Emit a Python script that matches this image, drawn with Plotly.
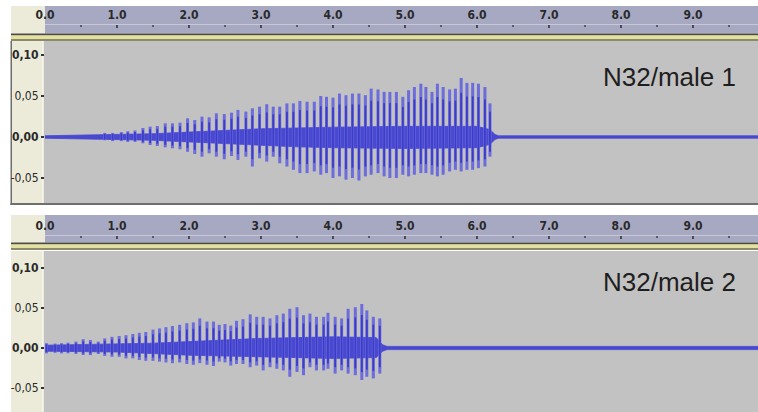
import plotly.graph_objects as go

W, H = 758, 412

# ---------------- tick labels ----------------
RULER_TICKS = [0, 1, 2, 3, 4, 5, 6, 7, 8, 9]
RULER_LABELS = ["0.0", "1.0", "2.0", "3.0", "4.0", "5.0", "6.0", "7.0", "8.0", "9.0"]
AMP_TICKS = [0.10, 0.05, 0.00, -0.05]
AMP_LABELS = ["0,10", "0,05", "0,00", "-0,05"]
PANEL_NAMES = ["N32/male 1", "N32/male 2"]

# ---------------- male 1 : pulses (time s, max, min) ----------------
M1_PULSE_T = [0.83, 0.94, 1.06, 1.15, 1.25, 1.36, 1.46, 1.56, 1.67, 1.77, 1.875, 1.98,
              2.08, 2.18, 2.28, 2.38, 2.49, 2.59, 2.68, 2.79, 2.88, 2.98, 3.08, 3.17,
              3.26, 3.36, 3.45, 3.54, 3.64, 3.74, 3.83, 3.91, 4.00, 4.09, 4.18, 4.27,
              4.36, 4.45, 4.53, 4.625, 4.71, 4.79, 4.88, 4.97, 5.05, 5.13, 5.22, 5.29,
              5.375, 5.45, 5.53, 5.62, 5.70, 5.78, 5.86, 5.94, 6.02, 6.11, 6.18]
M1_PULSE_HI = [0.005, 0.005, 0.006, 0.007, 0.008, 0.011, 0.0126, 0.0134, 0.0167, 0.0167, 0.0175, 0.0228,
               0.0207, 0.0248, 0.024, 0.0289, 0.028, 0.0297, 0.033, 0.031, 0.035, 0.037, 0.040, 0.037,
               0.037, 0.041, 0.041, 0.044, 0.043, 0.043, 0.050, 0.049, 0.048, 0.053, 0.051, 0.053,
               0.053, 0.051, 0.059, 0.058, 0.055, 0.055, 0.055, 0.049, 0.057, 0.061, 0.065, 0.061,
               0.055, 0.065, 0.061, 0.058, 0.059, 0.072, 0.066, 0.066, 0.065, 0.061, 0.041]
M1_PULSE_LO = [-0.004, -0.005, -0.005, -0.006, -0.006, -0.0077, -0.0098, -0.011, -0.0126, -0.0138, -0.015, -0.018,
               -0.0207, -0.024, -0.0199, -0.024, -0.0272, -0.0232, -0.028, -0.024, -0.036, -0.026, -0.030, -0.024,
               -0.032, -0.036, -0.040, -0.044, -0.044, -0.042, -0.046, -0.044, -0.050, -0.048, -0.052, -0.050,
               -0.053, -0.048, -0.046, -0.044, -0.048, -0.050, -0.050, -0.046, -0.048, -0.046, -0.044, -0.044,
               -0.046, -0.048, -0.046, -0.042, -0.040, -0.042, -0.040, -0.040, -0.038, -0.036, -0.024]
# dense central body of the waveform (time s, max, min)
M1_BODY_T = [0.0, 0.8, 1.5, 2.0, 2.5, 3.0, 3.5, 4.0, 5.0, 6.0, 6.18, 6.25, 6.3, 9.95]
M1_BODY_HI = [0.0015, 0.0025, 0.004, 0.006, 0.008, 0.010, 0.011, 0.012, 0.013, 0.013, 0.009, 0.003, 0.0015, 0.0015]
M1_BODY_LO = [-0.0015, -0.0025, -0.004, -0.006, -0.008, -0.010, -0.012, -0.013, -0.014, -0.013, -0.009, -0.003, -0.0015, -0.0015]

# ---------------- male 2 : pulses (time s, max, min) ----------------
M2_PULSE_T = [0.02, 0.14, 0.23, 0.32, 0.43, 0.53, 0.63, 0.74, 0.83, 0.93, 1.03, 1.125,
              1.22, 1.31, 1.40, 1.50, 1.59, 1.68, 1.77, 1.87, 1.97, 2.06, 2.15, 2.25,
              2.34, 2.42, 2.50, 2.58, 2.66, 2.75, 2.85, 2.94, 3.03, 3.125, 3.22, 3.31,
              3.40, 3.50, 3.59, 3.68, 3.77, 3.87, 3.93, 4.03, 4.12, 4.21, 4.31, 4.40,
              4.47, 4.56, 4.65]
M2_PULSE_HI = [0.006, 0.0055, 0.006, 0.0067, 0.008, 0.011, 0.010, 0.008, 0.012, 0.014, 0.015, 0.016,
               0.0175, 0.019, 0.020, 0.023, 0.0245, 0.026, 0.0275, 0.029, 0.031, 0.032, 0.037, 0.033,
               0.033, 0.029, 0.030, 0.028, 0.034, 0.036, 0.042, 0.039, 0.039, 0.037, 0.041, 0.043,
               0.049, 0.051, 0.041, 0.043, 0.039, 0.039, 0.044, 0.039, 0.037, 0.049, 0.051, 0.055,
               0.047, 0.039, 0.037]
M2_PULSE_LO = [-0.0067, -0.006, -0.0067, -0.0067, -0.0075, -0.0088, -0.0088, -0.0075, -0.010, -0.011, -0.011, -0.013,
               -0.013, -0.015, -0.016, -0.016, -0.017, -0.018, -0.019, -0.018, -0.020, -0.021, -0.019, -0.021,
               -0.0225, -0.017, -0.018, -0.022, -0.020, -0.020, -0.024, -0.022, -0.028, -0.024, -0.026, -0.028,
               -0.036, -0.030, -0.034, -0.024, -0.028, -0.028, -0.026, -0.032, -0.028, -0.032, -0.034, -0.040,
               -0.036, -0.038, -0.032]
M2_BODY_T = [0.0, 1.0, 1.5, 2.0, 2.5, 3.0, 3.5, 4.0, 4.6, 4.69, 4.75, 9.95]
M2_BODY_HI = [0.0035, 0.005, 0.006, 0.008, 0.010, 0.012, 0.013, 0.014, 0.013, 0.004, 0.002, 0.002]
M2_BODY_LO = [-0.004, -0.005, -0.007, -0.009, -0.010, -0.011, -0.012, -0.013, -0.012, -0.004, -0.002, -0.002]

# ---------------- styling ----------------
BEIGE = "#ecead9"
RULER = "#a7a9c3"
TRACK = "#c2c2c2"
WAVE_OUT = "#6c6cdc"
WAVE_IN = "#3c3cca"
WAVE_BODY = "#4848d0"
NARROW = "Liberation Sans Narrow, DejaVu Sans Condensed, Arial Narrow, sans-serif"

PX_PER_S = 72.0
X0_PX = 45
T_MAX = (W - X0_PX) / PX_PER_S


def px(x):
    return x / W


def py(y):
    return 1 - y / H


def segments(ts, lo, hi, k=1.0):
    xs, ys = [], []
    for t, l, h in zip(ts, lo, hi):
        xs += [t, t, None]
        ys += [l * k, h * k, None]
    return xs, ys


fig = go.Figure()

panels = [
    (M1_PULSE_T, M1_PULSE_HI, M1_PULSE_LO, M1_BODY_T, M1_BODY_HI, M1_BODY_LO, "x", "y"),
    (M2_PULSE_T, M2_PULSE_HI, M2_PULSE_LO, M2_BODY_T, M2_BODY_HI, M2_BODY_LO, "x2", "y2"),
]
for pt, phi, plo, bt, bhi, blo, xa, ya in panels:
    fig.add_trace(go.Scatter(x=bt, y=blo, mode="lines", line=dict(color=WAVE_BODY, width=0.8),
                             xaxis=xa, yaxis=ya, hoverinfo="skip"))
    fig.add_trace(go.Scatter(x=bt, y=bhi, mode="lines", line=dict(color=WAVE_BODY, width=0.8),
                             fill="tonexty", fillcolor=WAVE_BODY, xaxis=xa, yaxis=ya, hoverinfo="skip"))
    sx, sy = segments(pt, plo, phi)
    fig.add_trace(go.Scatter(x=sx, y=sy, mode="lines", line=dict(color=WAVE_OUT, width=3.0),
                             xaxis=xa, yaxis=ya, hoverinfo="skip"))
    cx, cy = segments(pt, plo, phi, 0.75)
    fig.add_trace(go.Scatter(x=cx, y=cy, mode="lines", line=dict(color=WAVE_IN, width=1.8),
                             xaxis=xa, yaxis=ya, hoverinfo="skip"))

# invisible traces to instantiate ruler subplots
fig.add_trace(go.Scatter(x=[None], y=[None], xaxis="x3", yaxis="y3", hoverinfo="skip"))
fig.add_trace(go.Scatter(x=[None], y=[None], xaxis="x4", yaxis="y4", hoverinfo="skip"))

amp_text = [f"<b>{s}</b>" if abs(round(v * 100)) % 10 == 0 else s
            for v, s in zip(AMP_TICKS, AMP_LABELS)]

track_y = dict(tickvals=AMP_TICKS, ticktext=amp_text, ticks="outside", ticklen=3,
               tickwidth=1.2, tickcolor="#333", showgrid=False, zeroline=False,
               showline=False, tickfont=dict(family=NARROW, size=12, color="#2a2a2a"),
               fixedrange=True, automargin=False)
track_x = dict(range=[0, T_MAX], showgrid=False, zeroline=False, showticklabels=False,
               ticks="", showline=False, domain=[px(X0_PX), 1], automargin=False)
ruler_x = dict(range=[0, T_MAX], domain=[px(X0_PX), 1], side="top", showgrid=False,
               zeroline=False, showline=True, linecolor="#c9c9d6", linewidth=1,
               tickvals=RULER_TICKS, ticktext=RULER_LABELS, ticks="inside", ticklen=3,
               tickwidth=1.6, tickcolor="#4a4a55", automargin=False,
               minor=dict(dtick=0.5, tick0=0, ticks="inside", ticklen=2, tickwidth=1.4,
                          tickcolor="#5a5a66"),
               tickfont=dict(family=NARROW, size=12, color="#2a2a2a", weight="bold"))

fig.update_layout(
    width=W, height=H, margin=dict(l=0, r=0, t=0, b=0, pad=0), autosize=False,
    paper_bgcolor="white", plot_bgcolor="rgba(0,0,0,0)", showlegend=False,
    xaxis=dict(track_x, anchor="y"),
    yaxis=dict(track_y, range=[-66 / 820, 96 / 820], domain=[py(203), py(41)], anchor="x"),
    xaxis2=dict(track_x, anchor="y2"),
    yaxis2=dict(track_y, range=[-64 / 800, 97 / 800], domain=[0, py(251)], anchor="x2"),
    xaxis3=dict(ruler_x, anchor="y3"),
    yaxis3=dict(range=[0, 1], domain=[py(33), py(25)], visible=False, anchor="x3",
                automargin=False),
    xaxis4=dict(ruler_x, anchor="y4"),
    yaxis4=dict(range=[0, 1], domain=[py(243), py(236)], visible=False, anchor="x4",
                automargin=False),
)

shapes = []


def rect(x0, y0, x1, y1, color):
    shapes.append(dict(type="rect", xref="paper", yref="paper", x0=px(x0), x1=px(x1),
                       y0=py(y1), y1=py(y0), fillcolor=color, line=dict(width=0),
                       layer="below"))


for top in (6, 215):
    rect(11, top, X0_PX, top + 27.5, BEIGE)
    rect(X0_PX, top, W, top + 27.5, RULER)
    rect(11, top + 27.5, W, top + 29.5, "#4b4b42")
    rect(11, top + 29.5, W, top + 33, "#e4e09e")
    rect(11, top + 33, W, top + 35, "#8c8a6c")

# top track
rect(11, 41, 44, 204, BEIGE)
rect(44, 41, W, 203, TRACK)
rect(42, 41, 43.2, 203, "#f6f5ec")
rect(10.5, 41, 12, 205, "#6e6e6e")
rect(10.5, 203, W, 205, "#6e6e6e")
# bottom track
rect(11, 251, 44, H, BEIGE)
rect(44, 251, W, H, TRACK)
rect(42, 251, 43.2, H, "#f6f5ec")
fig.update_layout(shapes=shapes)

for name, yc in zip(PANEL_NAMES, (77, 282)):
    fig.add_annotation(x=px(669), y=py(yc), xref="paper", yref="paper", text=name,
                       showarrow=False, xanchor="center", yanchor="middle",
                       font=dict(family="Liberation Sans, Arial, sans-serif", size=26,
                                 color="#1e1e1e"))

# the page's default body margin would offset the figure; remove it
fig.write_html("out.html",
               config={"displayModeBar": False, "staticPlot": True},
               post_script="document.body.style.margin='0px';document.body.style.overflow='hidden';")
